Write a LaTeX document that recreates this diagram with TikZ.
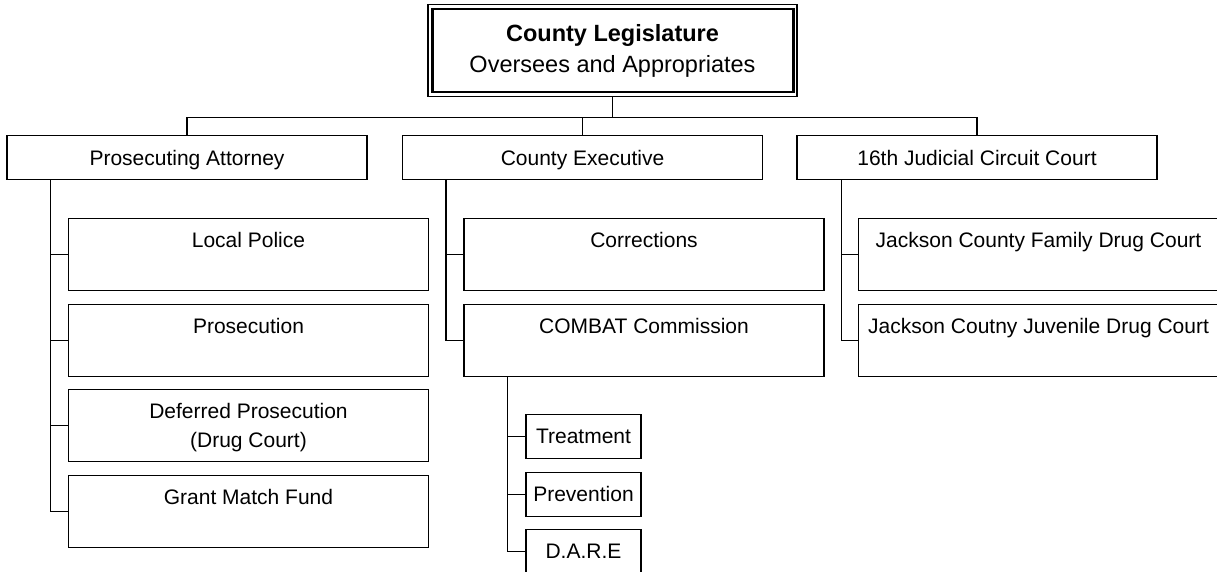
\documentclass[tikz,border=0pt]{standalone}
\usepackage{fontspec}
\setmainfont{Liberation Sans}
\usepackage{tikz}

\newcommand\orgfont{\fontsize{21pt}{29pt}\selectfont}
\newcommand\legfont{\fontsize{23.5pt}{31pt}\selectfont}

\begin{document}
\begin{tikzpicture}[
  x=1pt, y=1pt,
  head/.style={rectangle, draw, line width=1.2pt, align=center, font=\orgfont, minimum width=360pt, inner xsep=0pt, inner ysep=0pt, text height=30pt, text depth=14pt},
  unit/.style={head, text height=29pt, text depth=43pt},
  prog/.style={head, minimum width=115pt, text height=29pt, text depth=15pt},
  link/.style={line width=1.2pt, draw=black}
]
\useasboundingbox (0,0) rectangle (1217,-571);
\clip (0,0) rectangle (1217,-571);

% ---------------------------------------------------
% Coordinate Grid
% ---------------------------------------------------
\def\xPros{187}
\def\xExec{582.5}
\def\xCourt{977}
\def\xSubPros{248.5}
\def\xSubExec{644}
\def\xSubCourt{1038.5}
\def\xProg{583.5}

\def\yHeads{-135}
\def\yRowA{-218}
\def\yRowB{-303.5}
\def\yRowC{-389}
\def\yRowD{-474.5}
\def\yProgA{-414}
\def\yProgB{-471.5}
\def\yProgC{-529}

% ---------------------------------------------------
% 1. Legislature (double frame)
% ---------------------------------------------------
\node[head, font=\legfont, minimum width=369pt, text height=68pt, text depth=24pt, anchor=north] (leg) at (612.5,-4) {\textbf{County Legislature}\\Oversees and Appropriates};
\draw[line width=2.4pt] ([shift={(5pt,-5pt)}]leg.north west) rectangle ([shift={(-4pt,5pt)}]leg.south east);

% ---------------------------------------------------
% 2. Offices
% ---------------------------------------------------
\node[head, anchor=north] (pros) at (\xPros, \yHeads) {Prosecuting Attorney};
\node[head, anchor=north] (exec) at (\xExec, \yHeads) {County Executive};
\node[head, anchor=north] (court) at (\xCourt, \yHeads) {16th Judicial Circuit Court};

% ---------------------------------------------------
% 3. Units under each office
% ---------------------------------------------------
\node[unit, anchor=north] (police) at (\xSubPros, \yRowA) {Local Police};
\node[unit, anchor=north] (prosec) at (\xSubPros, \yRowB) {Prosecution};
\node[unit, anchor=north, text height=58pt, text depth=14pt] (deferred) at (\xSubPros, \yRowC) {Deferred Prosecution\\(Drug Court)};
\node[unit, anchor=north] (grant) at (\xSubPros, \yRowD) {Grant Match Fund};

\node[unit, anchor=north] (corrections) at (\xSubExec, \yRowA) {Corrections};
\node[unit, anchor=north] (combat) at (\xSubExec, \yRowB) {COMBAT Commission};

\node[unit, anchor=north] (family) at (\xSubCourt, \yRowA) {Jackson County Family Drug Court};
\node[unit, anchor=north] (juvenile) at (\xSubCourt, \yRowB) {Jackson Coutny Juvenile Drug Court};

% ---------------------------------------------------
% 4. COMBAT programs
% ---------------------------------------------------
\node[prog, anchor=north] (treatment) at (\xProg, \yProgA) {Treatment};
\node[prog, anchor=north] (prevention) at (\xProg, \yProgB) {Prevention};
\node[prog, anchor=north] (dare) at (\xProg, \yProgC) {D.A.R.E};

% ---------------------------------------------------
% Draw Connections
% ---------------------------------------------------
\draw[link] (leg.south) -- ++(0,-20) -| (pros.north);
\draw[link] (leg.south) -- ++(0,-20) -| (exec.north);
\draw[link] (leg.south) -- ++(0,-20) -| (court.north);

\foreach \n in {police, prosec, deferred, grant}
  \draw[link] ([xshift=44pt]pros.south west) |- (\n.west);
\foreach \n in {corrections, combat}
  \draw[link] ([xshift=44pt]exec.south west) |- (\n.west);
\foreach \n in {family, juvenile}
  \draw[link] ([xshift=45pt]court.south west) |- (\n.west);
\foreach \n in {treatment, prevention, dare}
  \draw[link] ([xshift=44pt]combat.south west) |- (\n.west);

\end{tikzpicture}
\end{document}
